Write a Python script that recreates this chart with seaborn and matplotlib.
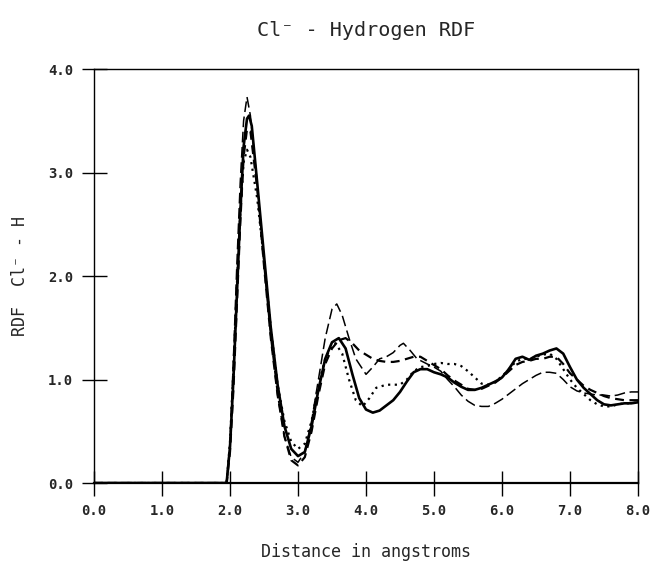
import numpy as np
import pandas as pd
import matplotlib
matplotlib.use("Agg")
import matplotlib.pyplot as plt
import seaborn as sns

sns.set_style("ticks")
plt.rcParams['font.family'] = ['DejaVu Sans Mono', 'DejaVu Sans']

# ---- data ----
solid_x = [0.0, 1.95, 2.0, 2.05, 2.1, 2.15, 2.2, 2.25, 2.28, 2.32, 2.4, 2.5, 2.6, 2.7, 2.8, 2.9, 3.0, 3.1,
           3.2, 3.3, 3.4, 3.5, 3.6, 3.7, 3.8, 3.9, 4.0, 4.1, 4.2, 4.3, 4.4, 4.5, 4.6, 4.7, 4.8, 4.9,
           5.0, 5.1, 5.2, 5.3, 5.4, 5.5, 5.6, 5.7, 5.8, 5.9, 6.0, 6.1, 6.2, 6.3, 6.4, 6.5, 6.6, 6.7,
           6.8, 6.9, 7.0, 7.1, 7.2, 7.3, 7.4, 7.5, 7.6, 7.7, 7.8, 7.9, 8.0]
solid_y = [0.0, 0.0, 0.35, 1.0, 1.8, 2.6, 3.25, 3.52, 3.55, 3.45, 2.9, 2.2, 1.5, 0.95, 0.55, 0.33, 0.26, 0.3,
           0.55, 0.9, 1.2, 1.36, 1.40, 1.3, 1.05, 0.82, 0.71, 0.68, 0.7, 0.75, 0.8, 0.88, 0.98, 1.07, 1.1, 1.1,
           1.07, 1.05, 1.02, 0.97, 0.93, 0.9, 0.9, 0.92, 0.95, 0.98, 1.02, 1.1, 1.2, 1.22, 1.19, 1.23, 1.25, 1.28,
           1.3, 1.25, 1.12, 1.0, 0.92, 0.86, 0.8, 0.76, 0.75, 0.76, 0.77, 0.77, 0.78]

longdash_x = [0.0, 1.95, 2.0, 2.05, 2.1, 2.15, 2.2, 2.25, 2.3, 2.4, 2.5, 2.6, 2.7, 2.8, 2.9, 3.0, 3.1, 3.2,
              3.3, 3.4, 3.5, 3.57, 3.65, 3.75, 3.85, 4.0, 4.1, 4.2, 4.3, 4.4, 4.5, 4.55, 4.65, 4.75, 4.9,
              5.0, 5.1, 5.2, 5.3, 5.4, 5.5, 5.6, 5.7, 5.8, 5.9, 6.0, 6.1, 6.2, 6.3, 6.4, 6.5, 6.6, 6.7,
              6.8, 6.9, 7.0, 7.1, 7.2, 7.3, 7.4, 7.5, 7.6, 7.7, 7.8, 7.9, 8.0]
longdash_y = [0.0, 0.0, 0.4, 1.2, 2.1, 2.9, 3.5, 3.73, 3.55, 2.9, 2.1, 1.4, 0.85, 0.45, 0.25, 0.2, 0.3, 0.6,
              1.0, 1.4, 1.68, 1.73, 1.62, 1.4, 1.2, 1.05, 1.12, 1.2, 1.22, 1.26, 1.33, 1.35, 1.28, 1.2, 1.15,
              1.12, 1.08, 1.0, 0.93, 0.85, 0.79, 0.75, 0.74, 0.74, 0.77, 0.81, 0.86, 0.91, 0.96, 1.0, 1.04, 1.07, 1.07,
              1.06, 1.0, 0.93, 0.89, 0.87, 0.86, 0.85, 0.85, 0.84, 0.85, 0.87, 0.88, 0.88]

dash_x = [0.0, 1.95, 2.0, 2.05, 2.1, 2.15, 2.2, 2.25, 2.3, 2.4, 2.5, 2.6, 2.7, 2.8, 2.9, 3.0, 3.1, 3.2,
          3.3, 3.4, 3.5, 3.6, 3.7, 3.8, 3.9, 4.0, 4.1, 4.2, 4.3, 4.4, 4.5, 4.6, 4.7, 4.8, 4.9,
          5.0, 5.1, 5.2, 5.3, 5.4, 5.5, 5.6, 5.7, 5.8, 5.9, 6.0, 6.1, 6.2, 6.3, 6.4, 6.5, 6.6, 6.7,
          6.8, 6.9, 7.0, 7.1, 7.2, 7.3, 7.4, 7.5, 7.6, 7.7, 7.8, 7.9, 8.0]
dash_y = [0.0, 0.0, 0.3, 0.9, 1.7, 2.5, 3.15, 3.42, 3.4, 2.85, 2.1, 1.4, 0.85, 0.45, 0.22, 0.17, 0.25, 0.5,
          0.85, 1.15, 1.3, 1.38, 1.4, 1.35, 1.28, 1.24, 1.2, 1.18, 1.17, 1.17, 1.18, 1.2, 1.22, 1.22, 1.18,
          1.14, 1.1, 1.04, 0.99, 0.95, 0.91, 0.9, 0.91, 0.94, 0.97, 1.02, 1.08, 1.14, 1.17, 1.18, 1.2, 1.2, 1.22,
          1.22, 1.15, 1.06, 1.0, 0.94, 0.9, 0.87, 0.84, 0.82, 0.81, 0.8, 0.8, 0.8]

dot_x = [0.0, 1.95, 2.0, 2.05, 2.1, 2.15, 2.2, 2.25, 2.3, 2.4, 2.5, 2.6, 2.7, 2.8, 2.9, 3.0, 3.1, 3.2,
         3.3, 3.4, 3.5, 3.55, 3.65, 3.75, 3.85, 3.95, 4.05, 4.15, 4.3, 4.5, 4.6, 4.7, 4.8, 4.9,
         5.0, 5.1, 5.2, 5.3, 5.4, 5.5, 5.6, 5.7, 5.8, 5.9, 6.0, 6.1, 6.2, 6.3, 6.4, 6.5, 6.6, 6.7,
         6.8, 6.9, 7.0, 7.1, 7.2, 7.3, 7.4, 7.5, 7.6, 7.7, 7.8, 7.9, 8.0]
dot_y = [0.0, 0.0, 0.4, 1.1, 1.9, 2.6, 3.1, 3.22, 3.15, 2.75, 2.15, 1.5, 0.95, 0.6, 0.4, 0.33, 0.38, 0.6,
         0.95, 1.2, 1.33, 1.35, 1.25, 1.0, 0.8, 0.74, 0.82, 0.92, 0.95, 0.95, 1.0, 1.08, 1.12, 1.13,
         1.15, 1.16, 1.15, 1.15, 1.13, 1.08, 1.02, 0.96, 0.95, 0.98, 1.03, 1.1, 1.17, 1.2, 1.2, 1.22, 1.24, 1.25,
         1.2, 1.1, 1.0, 0.92, 0.86, 0.8, 0.76, 0.74, 0.74, 0.76, 0.77, 0.77, 0.78]

x_ticks = [0.0, 1.0, 2.0, 3.0, 4.0, 5.0, 6.0, 7.0, 8.0]
y_ticks = [0.0, 1.0, 2.0, 3.0, 4.0]

series = [("solid", solid_x, solid_y), ("longdash", longdash_x, longdash_y),
          ("dash", dash_x, dash_y), ("dot", dot_x, dot_y)]
frames = []
for name, xs, ys in series:
    frames.append(pd.DataFrame({"r": xs, "g": ys, "run": name}))
df = pd.concat(frames, ignore_index=True)

styles = {"solid": "", "longdash": (7, 3), "dash": (4, 2.5), "dot": (1, 2)}
widths = {"solid": 1.9, "longdash": 1.1, "dash": 1.6, "dot": 1.6}

fig = plt.figure(figsize=(6.5, 5.61), dpi=100)
ax = fig.add_axes([0.1446, 0.139, 0.837, 0.738])

for name, _, _ in series:
    sub = df[df["run"] == name]
    sns.lineplot(data=sub, x="r", y="g", ax=ax, color="black", estimator=None,
                 sort=False, legend=False, linewidth=widths[name],
                 dashes=False)
    line = ax.get_lines()[-1]
    if styles[name] != "":
        line.set_dashes(styles[name])

ax.set_xlim(0, 8)
ax.set_ylim(0, 4)
ax.set_xticks(x_ticks)
ax.set_yticks(y_ticks)
ax.set_xticklabels([f"{v:.1f}" for v in x_ticks], fontweight="bold", fontsize=10)
ax.set_yticklabels([f"{v:.1f}" for v in y_ticks], fontweight="bold", fontsize=10)
ax.tick_params(axis="both", direction="inout", length=18, width=1.0, color="black")
ax.tick_params(axis="x", pad=6)
ax.tick_params(axis="y", pad=6)
for s in ax.spines.values():
    s.set_visible(True)
    s.set_color("black")
    s.set_linewidth(1.0)
ax.spines["bottom"].set_linewidth(1.6)

ax.set_xlabel("Distance in angstroms", fontsize=12, labelpad=18)
ax.set_ylabel("RDF  Cl\u207b - H", fontsize=12, labelpad=14)
fig.text(0.563, 1 - 31 / 561, "Cl\u207b - Hydrogen RDF", fontsize=14.5,
         ha="center", va="center")

fig.savefig("out.png", dpi=100)
